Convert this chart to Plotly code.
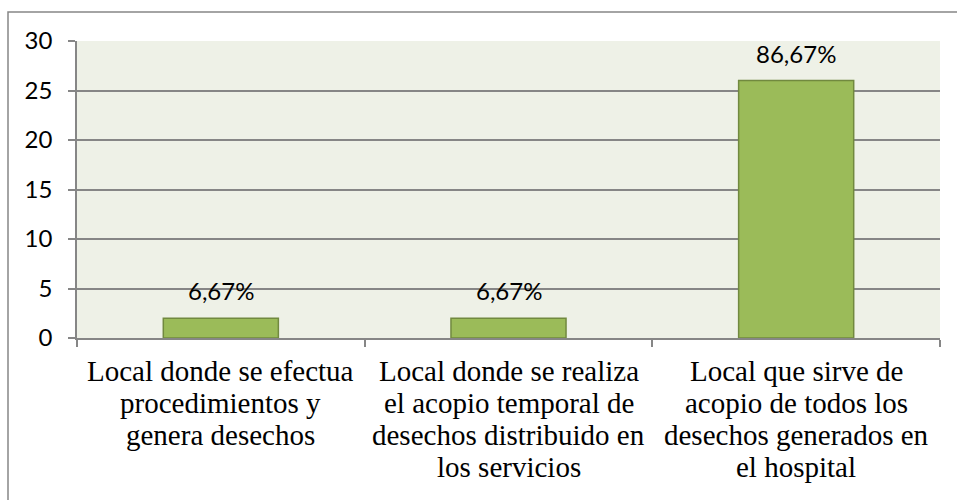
import plotly.graph_objects as go

categories = [
    "Local donde se efectua procedimientos y genera desechos",
    "Local donde se realiza el acopio temporal de desechos distribuido en los servicios",
    "Local que sirve de acopio de todos los desechos generados en el hospital",
]
category_lines = [
    ["Local donde se efectua", "procedimientos y", "genera desechos"],
    ["Local donde se realiza", "el acopio temporal de", "desechos distribuido en", "los servicios"],
    ["Local que sirve de", "acopio de todos los", "desechos generados en", "el hospital"],
]
values = [2, 2, 26]
pct_labels = ["6,67%", "6,67%", "86,67%"]
y_ticks = [0, 5, 10, 15, 20, 25, 30]

SANS = "Lato, Open Sans, sans-serif"
SERIF = "Liberation Serif, Times New Roman, serif"

fig = go.Figure()
fig.add_trace(go.Bar(
    x=categories, y=values,
    marker=dict(color="#9BBB59", line=dict(color="#71893F", width=1.5)),
    width=0.4,
    hoverinfo="skip",
))

for c, v, t in zip(categories, values, pct_labels):
    fig.add_annotation(x=c, y=v, text=t, showarrow=False, yanchor="bottom",
                       yshift=11, font=dict(family=SANS, size=24, color="#000000"))

for c, lines in zip(categories, category_lines):
    for i, line in enumerate(lines):
        fig.add_annotation(x=c, xref="x", y=0, yref="paper", text=line, showarrow=False,
                           yanchor="top", yshift=-15 - 32 * i,
                           font=dict(family=SERIF, size=29, color="#000000"))

L, R, T, B = 77, 940, 41, 338
W, H = 957, 500
pw, ph = R - L, B - T
fig.add_shape(type="rect", xref="paper", yref="paper",
              x0=(8 - L) / pw, x1=1.2,
              y0=-1.0, y1=1 + (T - 12) / ph,
              line=dict(color="#868686", width=1.5), fillcolor="rgba(0,0,0,0)", layer="below")

fig.update_layout(
    width=W, height=H,
    margin=dict(l=L, r=W - R, t=T, b=H - B, pad=0),
    paper_bgcolor="white",
    plot_bgcolor="#EEF1E7",
    showlegend=False,
    xaxis=dict(
        showline=True, linecolor="#868686", linewidth=1.5,
        ticks="outside", tickson="boundaries", ticklen=7, tickcolor="#868686", tickwidth=1.5,
        showticklabels=False,
        showgrid=False,
    ),
    yaxis=dict(
        range=[0, 30], tickvals=y_ticks,
        showline=True, linecolor="#868686", linewidth=1.5,
        ticks="outside", ticklen=7, tickcolor="#868686", tickwidth=1.5,
        showgrid=True, gridcolor="#868686", gridwidth=1.5,
        zeroline=False,
        tickfont=dict(family=SANS, size=24, color="#000000"),
        ticklabelstandoff=11,
    ),
)

fig.write_html("out.html", config={"displayModeBar": False},
               post_script="document.body.style.margin='0';document.body.style.overflow='hidden';")
